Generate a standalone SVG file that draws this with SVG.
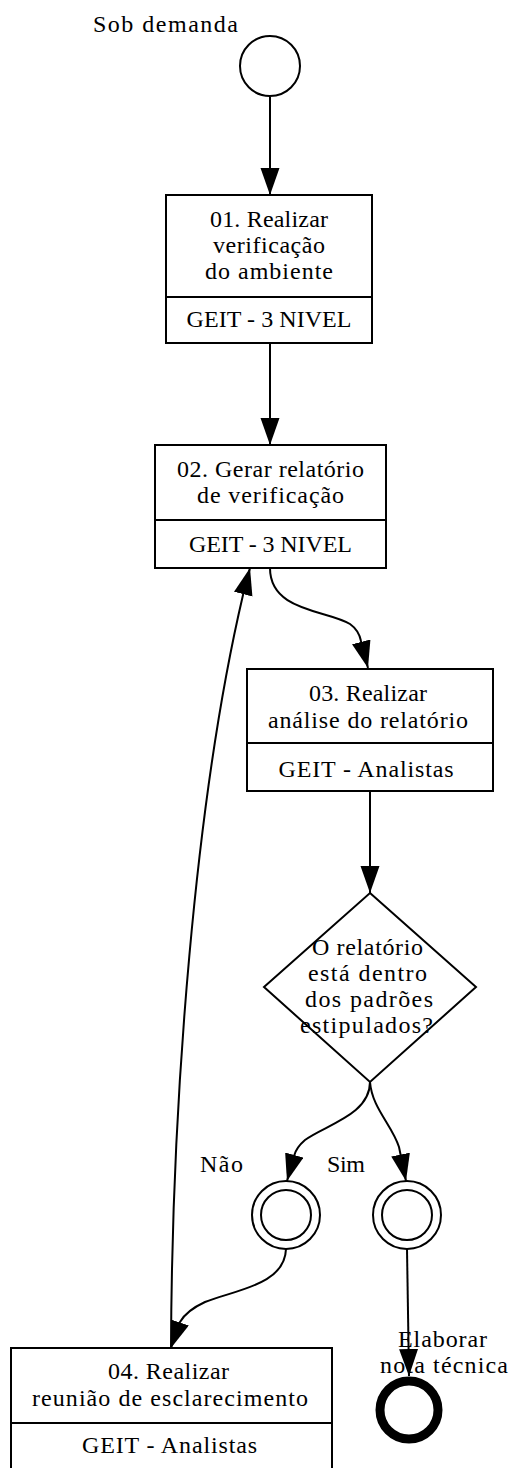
<svg xmlns="http://www.w3.org/2000/svg" width="512" height="1468" viewBox="0 0 512 1468">
<style>
  .bg{fill:#fff}
  .shape{fill:#fff;stroke:#000;stroke-width:2}
  .div{stroke:#000;stroke-width:2;fill:none}
  .edge{fill:none;stroke:#000;stroke-width:2}
  .end{fill:#fff;stroke:#000;stroke-width:9}
  text{font-family:"Liberation Serif","Times New Roman",serif;font-size:24px;fill:#000;text-anchor:middle}
</style>
<defs>
  <marker id="ah" markerUnits="userSpaceOnUse" markerWidth="28" markerHeight="20" refX="27" refY="9.5" orient="auto">
    <path d="M0,0 L27,9.5 L0,19 z" fill="#000"/>
  </marker>
</defs>
<rect class="bg" x="0" y="0" width="512" height="1468"/>

<g id="edges">
  <path class="edge" marker-end="url(#ah)" d="M270,97 L270,195"/>
  <path class="edge" marker-end="url(#ah)" d="M270,343 L270,445"/>
  <path class="edge" marker-end="url(#ah)" d="M270,568 C270,612 328,610 350,624 C357,629 360,636 361,641 L368,668"/>
  <path class="edge" marker-end="url(#ah)" d="M370,791 L370,893"/>
  <path class="edge" marker-end="url(#ah)" d="M370,1082 C370,1115 325,1125 305,1140 C298,1146 295,1152 294,1156 L287,1181"/>
  <path class="edge" marker-end="url(#ah)" d="M370,1082 C372,1108 392,1125 399,1147 L406,1181"/>
  <path class="edge" marker-end="url(#ah)" d="M286,1249 C285,1285 235,1290 205,1302 C192,1308 184,1315 180,1322 L171,1348"/>
  <path class="edge" marker-end="url(#ah)" d="M171,1348 C172,1100 195,800 243,595 L250,568"/>
  <path class="edge" marker-end="url(#ah)" d="M407,1249 L409,1376"/>
</g>

<g id="start">
  <circle class="shape" cx="270" cy="66" r="30"/>
  <text x="165.5" y="32" textLength="145" lengthAdjust="spacing">Sob demanda</text>
</g>

<g id="task01">
  <rect class="shape" x="166" y="195" width="206" height="148"/>
  <line class="div" x1="166" y1="297" x2="372" y2="297"/>
  <text x="269" y="227" textLength="118" lengthAdjust="spacing">01. Realizar</text>
  <text x="269" y="253" textLength="112" lengthAdjust="spacing">verificação</text>
  <text x="269" y="279" textLength="128" lengthAdjust="spacing">do ambiente</text>
  <text x="269" y="327" textLength="165" lengthAdjust="spacing">GEIT - 3 NIVEL</text>
</g>

<g id="task02">
  <rect class="shape" x="155" y="445" width="231" height="123"/>
  <line class="div" x1="155" y1="520" x2="386" y2="520"/>
  <text x="270.5" y="477" textLength="187" lengthAdjust="spacing">02. Gerar relatório</text>
  <text x="270.5" y="503" textLength="147" lengthAdjust="spacing">de verificação</text>
  <text x="270.5" y="552" textLength="163" lengthAdjust="spacing">GEIT - 3 NIVEL</text>
</g>

<g id="task03">
  <rect class="shape" x="247" y="669" width="246" height="122"/>
  <line class="div" x1="247" y1="743" x2="493" y2="743"/>
  <text x="368" y="701" textLength="118" lengthAdjust="spacing">03. Realizar</text>
  <text x="368" y="728" textLength="200" lengthAdjust="spacing">análise do relatório</text>
  <text x="366" y="777" textLength="175" lengthAdjust="spacing">GEIT - Analistas</text>
</g>

<g id="gateway">
  <polygon class="shape" points="370,893 476,987 370,1082 264,987"/>
  <text x="367.5" y="955" textLength="111" lengthAdjust="spacing">O relatório</text>
  <text x="367.5" y="981" textLength="119" lengthAdjust="spacing">está dentro</text>
  <text x="369" y="1007" textLength="128" lengthAdjust="spacing">dos padrões</text>
  <text x="366.5" y="1033" textLength="133" lengthAdjust="spacing">estipulados?</text>
</g>

<g id="nao">
  <circle class="shape" cx="286" cy="1215" r="34"/>
  <circle class="shape" cx="286" cy="1215" r="25"/>
  <text x="221.5" y="1172" textLength="43" lengthAdjust="spacing">Não</text>
</g>

<g id="sim">
  <circle class="shape" cx="407" cy="1215" r="34"/>
  <circle class="shape" cx="407" cy="1215" r="25"/>
  <text x="346" y="1172" textLength="38" lengthAdjust="spacing">Sim</text>
</g>

<g id="task04">
  <rect class="shape" x="11" y="1348" width="321" height="123"/>
  <line class="div" x1="11" y1="1423" x2="332" y2="1423"/>
  <text x="168.5" y="1379" textLength="121" lengthAdjust="spacing">04. Realizar</text>
  <text x="170" y="1406" textLength="276" lengthAdjust="spacing">reunião de esclarecimento</text>
  <text x="169.5" y="1453" textLength="175" lengthAdjust="spacing">GEIT - Analistas</text>
</g>

<g id="endEvent">
  <circle class="end" cx="409" cy="1410" r="29"/>
  <text x="442.5" y="1347" textLength="89" lengthAdjust="spacing">Elaborar</text>
  <text x="444" y="1373" textLength="128" lengthAdjust="spacing">nota técnica</text>
</g>
</svg>
